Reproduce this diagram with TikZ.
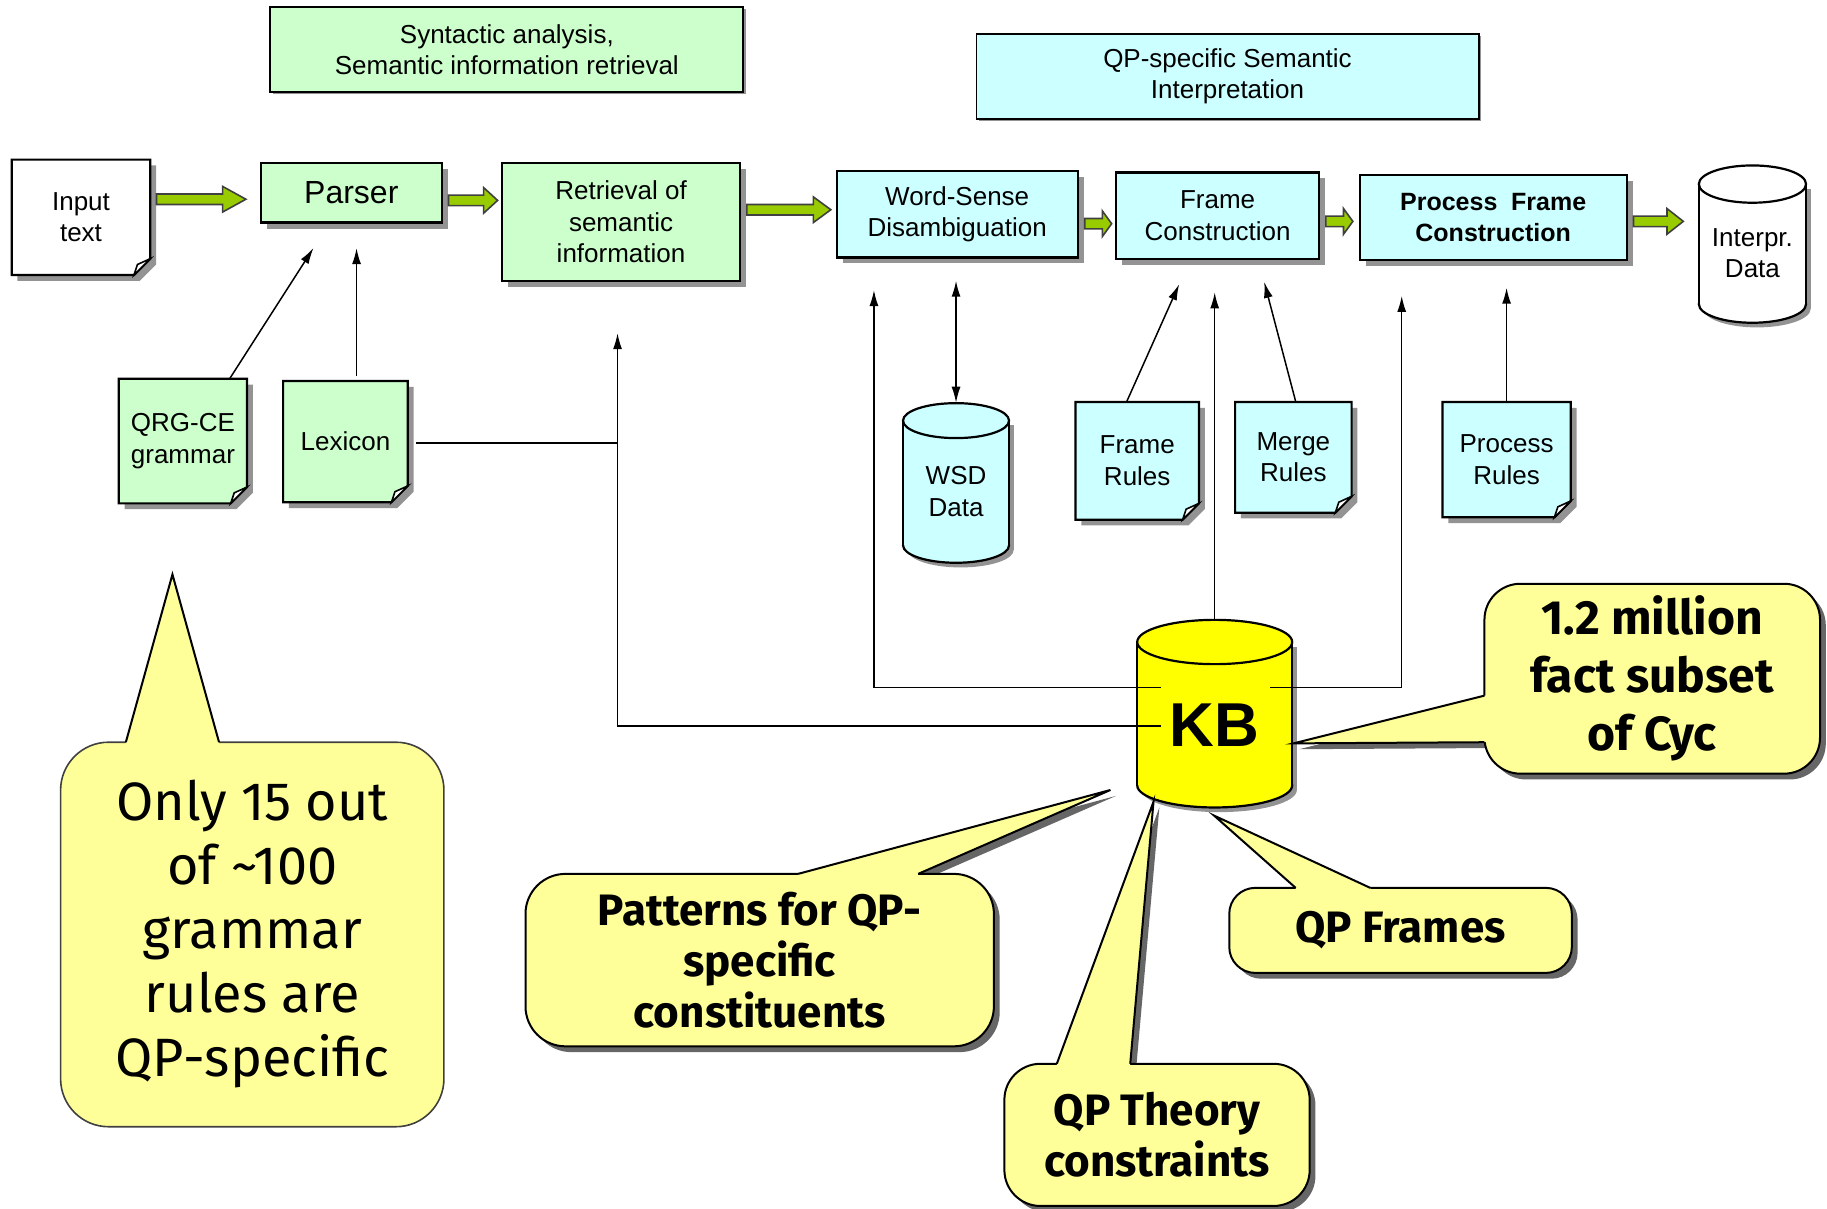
\documentclass[tikz,border=0pt]{standalone}
\usepackage{amsmath}
\usepackage{fontspec}
\setmainfont{Liberation Sans}
\newfontfamily\calloutfont{Fira Sans}
\usepackage{tikz}
\usetikzlibrary{calc, shapes, shadows, arrows.meta}

\definecolor{boxgreen}{HTML}{CCFFCC}
\definecolor{boxcyan}{HTML}{CCFFFF}
\definecolor{noteyellow}{HTML}{FFFF99}
\definecolor{kbyellow}{HTML}{FFFF00}
\definecolor{flowgreen}{HTML}{99CC00}

\tikzset{
  >={Latex[length=8pt,width=4.5pt]},
  spot/.style n args={4}{at={({(#1+#3)/2},{(#2+#4)/2})},
    minimum width={(#3-#1)*0.5826pt}, minimum height={(#4-#2)*0.5826pt}},
  box/.style={draw, line width=1.1pt, inner sep=0pt, align=center,
    font=\fontsize{13}{15.7}\selectfont},
  boxshadow/.style={drop shadow={shadow xshift=3pt, shadow yshift=-3pt, fill=gray!85, opacity=1}},
  thinshadow/.style={drop shadow={shadow xshift=1.2pt, shadow yshift=-1.2pt, fill=gray!85, opacity=1}},
  note/.style={draw, line width=1pt, fill=noteyellow, inner sep=0pt, align=center,
    font=\calloutfont\bfseries\fontsize{22}{25.6}\selectfont},
  noteshadow/.style={drop shadow={shadow xshift=2.9pt, shadow yshift=-2.9pt, fill=black!60, opacity=1}},
  link/.style={line width=0.75pt, ->},
}

% green block arrow: from, to, y, end gap, head length
\newcommand{\garrow}[5]{%
  \path ($(#1.east |- 0,#3)+(5,0)$) coordinate (ga) ($(#2.west |- 0,#3)+(-#4,0)$) coordinate (gb);
  \draw[line width=0.8pt, fill=flowgreen, draw=black!75]
    ($(ga)+(0,-4.5)$) -- ($(gb)+(-#5,-4.5)$) -- ($(gb)+(-#5,-11)$) -- (gb)
    -- ($(gb)+(-#5,11)$) -- ($(gb)+(-#5,4.5)$) -- ($(ga)+(0,4.5)$) -- cycle;
}

% page with folded corner: name, x1, y1, x2, y2, fill, text
\newcommand{\docbox}[7]{%
  \fill[gray!85] (#2+5,#3+5) -- (#4+5,#3+5) -- (#4+5,#5-9) -- (#4-9,#5+5) -- (#2+5,#5+5) -- cycle;
  \draw[line width=1.1pt, fill=#6] (#2,#3) -- (#4,#3) -- (#4,#5-14) -- (#4-14,#5) -- (#2,#5) -- cycle;
  \draw[line width=0.8pt, fill=white] (#4,#5-14) -- (#4-11,#5-9) -- (#4-14,#5) -- cycle;
  \node[inner sep=0pt, align=center, font=\fontsize{13}{15.7}\selectfont, spot={#2}{#3}{#4}{#5}] (#1) {#7};
}

% cylinder: x1, y1, x2, y2, ry, fill, name, text
\newcommand{\dbcyl}[8]{%
  \begin{scope}[shift={(4,4)}]
    \fill[gray!85] ({(#1+#3)/2},#4-#5) ellipse [x radius={(#3-#1)/2}, y radius=#5];
    \fill[gray!85] (#1,#2+#5) rectangle (#3,#4-#5);
  \end{scope}
  \draw[line width=1.1pt, fill=#6] ({(#1+#3)/2},#4-#5) ellipse [x radius={(#3-#1)/2}, y radius=#5];
  \fill[#6] (#1,#2+#5) rectangle (#3,#4-#5);
  \draw[line width=1.1pt] (#1,#2+#5) -- (#1,#4-#5) (#3,#2+#5) -- (#3,#4-#5);
  \draw[line width=1.1pt, fill=#6] ({(#1+#3)/2},#2+#5) ellipse [x radius={(#3-#1)/2}, y radius=#5];
  \node[inner sep=0pt, spot={#1}{#2}{#3}{#4}] (#7) {};
  \node[align=center, font=\fontsize{13}{15.7}\selectfont] (#7text) at ($(#7.center)+(0,#5/2)$) {#8};
}

% callout tail: base point, tip, base point, inward shift
\newcommand{\tailshadow}[3]{\fill[black!60, shift={(5,5)}] (#1) -- (#2) -- (#3) -- cycle;}
\newcommand{\tail}[4]{%
  \fill[noteyellow] (#1) -- (#2) -- (#3) -- ($(#3)+(#4)$) -- ($(#1)+(#4)$) -- cycle;
  \draw[line width=1pt, line join=miter] (#1) -- (#2) -- (#3);
}

\begin{document}
\begin{tikzpicture}[x=0.5826pt, y=-0.5826pt]
  \useasboundingbox (0,0) rectangle (1568,1037);

  % phase labels
  \node[box, line width=0.9pt, thinshadow, fill=boxgreen, spot={232}{6}{638}{79}] (synlabel)
    {Syntactic analysis,\\Semantic information retrieval};
  \node[box, line width=0.9pt, thinshadow, fill=boxcyan, spot={838}{29}{1269}{102}] (qplabel)
    {QP-specific Semantic\\Interpretation};

  % pipeline
  \docbox{input}{10}{137}{129}{236}{white}{Input\\text}
  \node[box, boxshadow, fill=boxgreen, spot={224}{140}{379}{191}, font=\fontsize{16}{19}\selectfont] (parser) {Parser};
  \node[box, boxshadow, fill=boxgreen, spot={431}{140}{635}{241}] (retrieval) {Retrieval of\\semantic\\information};
  \node[box, boxshadow, fill=boxcyan, spot={718}{147}{925}{221}] (wsd) {Word-Sense\\Disambiguation};
  \node[box, boxshadow, fill=boxcyan, spot={958}{148}{1132}{222}] (framec) {Frame\\Construction};
  \node[box, boxshadow, fill=boxcyan, spot={1167}{150}{1396}{223}, font=\fontsize{12.5}{15.7}\selectfont\bfseries] (pfc)
    {Process\hspace{0.55em}Frame\\Construction};
  \dbcyl{1458}{142}{1550}{277}{16}{white}{interp}{Interpr.\\Data}

  \garrow{input}{parser}{171}{12}{20}
  \garrow{parser}{retrieval}{172}{3}{12}
  \garrow{retrieval}{wsd}{180}{4}{15}
  \garrow{wsd}{framec}{192}{3}{8}
  \garrow{framec}{pfc}{190}{5}{8}
  \garrow{pfc}{interp}{190}{13}{14}

  % resources
  \docbox{qrg}{102}{325}{212}{432}{boxgreen}{QRG-CE\\grammar}
  \docbox{lexicon}{243}{327}{350}{431}{boxgreen}{Lexicon}
  \dbcyl{775}{346}{866}{483}{15}{boxcyan}{wsddata}{WSD\\Data}
  \docbox{framerules}{923}{345}{1029}{446}{boxcyan}{Frame\\Rules}
  \docbox{mergerules}{1060}{345}{1160}{440}{boxcyan}{Merge\\Rules}
  \docbox{processrules}{1238}{345}{1348}{444}{boxcyan}{Process\\Rules}
  \dbcyl{976}{532}{1109}{693}{19}{kbyellow}{kb}{\fontsize{31}{36}\selectfont\bfseries KB}

  \draw[link] ($(qrg.north east)+(-15,0)$) -- ($(parser.south)+(-32.5,21)$);
  \draw[link] ($(lexicon.north)+(9.5,-4)$) -- ($(parser.south)+(4.5,21)$);
  \draw[line width=0.75pt] ($(lexicon.east)+(7,1)$) -- ++(173,0);
  \draw[link] ($(kb.west)+(21,10.5)$) -| ($(retrieval.south)+(-3,44)$);
  \draw[link] ($(kb.west)+(21,-22.5)$) -| ($(wsd.south west)+(33,27)$);
  \draw[link, <->] ($(wsddata.north |- wsd.south)+(0,19)$) -- (wsddata.north);
  \draw[link] ($(framerules.north)+(-9,0)$) -- ($(framec.south)+(-33,21)$);
  \draw[link] (kb.north) -- ($(kb.north |- framec.south)+(0,28)$);
  \draw[link] ($(mergerules.north)+(2,0)$) -- ($(framec.south)+(40,19)$);
  \draw[link] ($(kb.east)+(-19,-22.5)$) -| ($(pfc.south)+(-78.5,30)$);
  \draw[link] (processrules.north) -- ($(processrules.north |- pfc.south)+(0,23)$);

  % callouts
  \tailshadow{1274,597}{1110,638}{1274,637}
  \tailshadow{685,750}{953,678}{788,750}
  \tailshadow{1112,762}{1042,700}{1176,762}
  \tailshadow{907,913}{990,688}{970,913}

  \node[note, draw=black!75, line width=0.8pt, rounded corners=24pt, spot={52}{637}{381}{967},
    font=\calloutfont\fontsize{27}{32}\selectfont] (grammarnote)
    {Only 15 out\\of \textasciitilde100\\grammar\\rules are\\QP-specific};
  \tail{108,637}{148,493}{188,637}{0,3}

  \node[note, noteshadow, rounded corners=18pt, spot={1274}{501}{1562}{664},
    font=\calloutfont\bfseries\fontsize{24}{29}\selectfont] (cycnote)
    {1.2 million\\fact subset\\of Cyc};
  \tail{1274,597}{1110,638}{1274,637}{3,0}

  \node[note, noteshadow, rounded corners=20pt, spot={451}{750}{853}{898}] (patternnote)
    {Patterns for QP-\\specific\\constituents};
  \tail{685,750}{953,678}{788,750}{0,3}

  \node[note, noteshadow, rounded corners=13pt, spot={1055}{762}{1349}{835}] (framenote) {QP Frames};
  \tail{1112,762}{1042,700}{1176,762}{0,3}

  \node[note, noteshadow, rounded corners=18pt, spot={862}{913}{1124}{1035}] (theorynote)
    {QP Theory\\constraints};
  \tail{907,913}{990,688}{970,913}{0,3}
\end{tikzpicture}
\end{document}
